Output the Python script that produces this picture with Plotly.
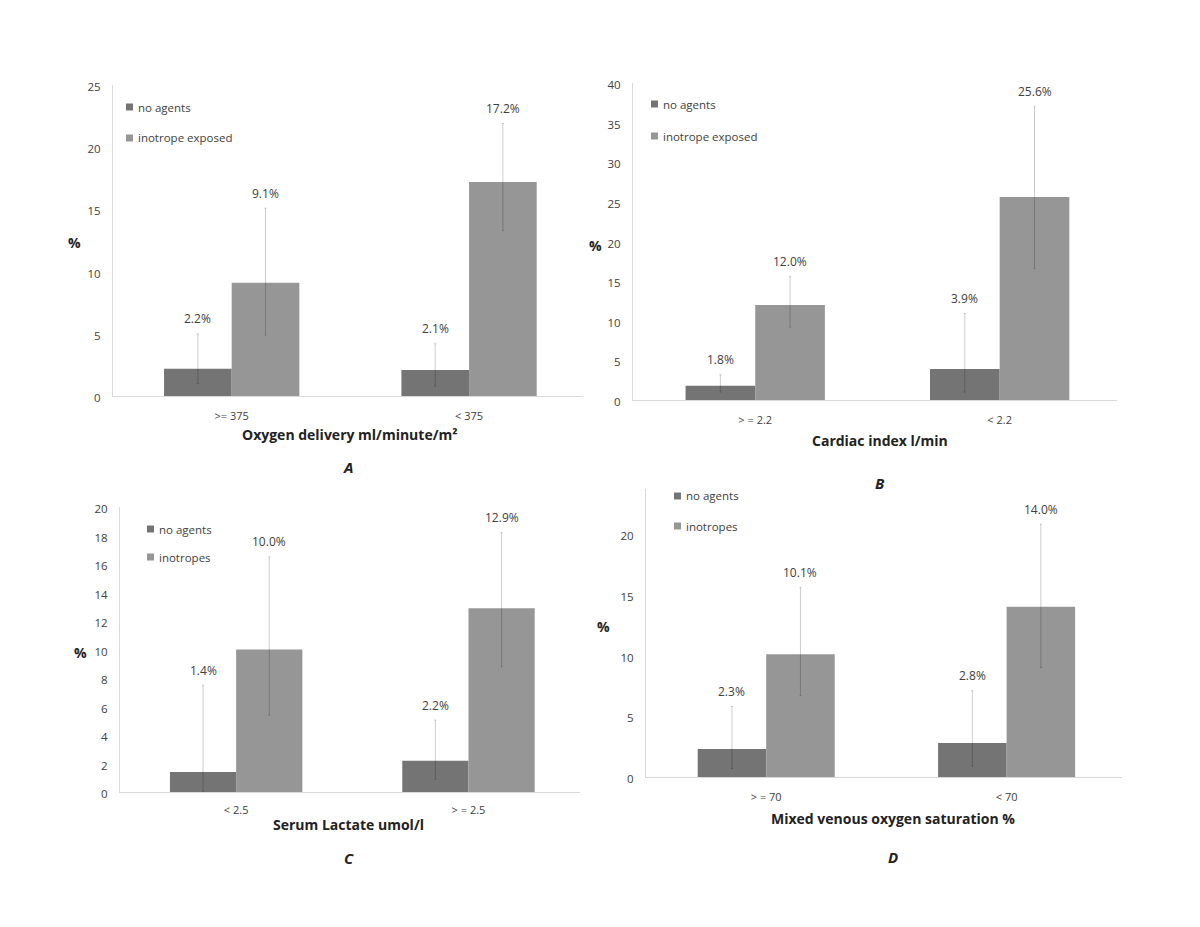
import plotly.graph_objects as go

# page is 1200x927; the browser body keeps its default 8px margin,
# so the figure itself is 1184x911 placed at (8, 8)
PAGE_M = 8
W, H = 1200 - 2 * PAGE_M, 927 - 2 * PAGE_M

# ---------------- data ----------------
cats_a = [">= 375", "< 375"]
no_a = [2.2, 2.1]
ino_a = [9.1, 17.2]
no_a_hi = [5.0, 4.2]
no_a_lo = [1.0, 0.8]
ino_a_hi = [15.1, 21.9]
ino_a_lo = [4.9, 13.3]

cats_b = ["> = 2.2", "< 2.2"]
no_b = [1.8, 3.9]
ino_b = [12.0, 25.6]
no_b_hi = [3.2, 10.9]
no_b_lo = [1.0, 1.0]
ino_b_hi = [15.6, 37.0]
ino_b_lo = [9.2, 16.6]

cats_c = ["< 2.5", "> = 2.5"]
no_c = [1.4, 2.2]
ino_c = [10.0, 12.9]
no_c_hi = [7.5, 5.05]
no_c_lo = [0.0, 0.9]
ino_c_hi = [16.5, 18.2]
ino_c_lo = [5.4, 8.8]

cats_d = ["> = 70", "< 70"]
no_d = [2.3, 2.8]
ino_d = [10.1, 14.0]
no_d_hi = [5.8, 7.1]
no_d_lo = [0.7, 0.9]
ino_d_hi = [15.6, 20.8]
ino_d_lo = [6.7, 9.0]

titles = ["Oxygen delivery ml/minute/m\u00b2", "Cardiac index l/min",
          "Serum Lactate umol/l", "Mixed venous oxygen saturation %"]
letters = ["A", "B", "C", "D"]
legend_a = ["no agents", "inotrope exposed"]
legend_c = ["no agents", "inotropes"]

# ---------------- layout geometry (screen pixels) ----------------
panels = [
    dict(cats=cats_a, no=no_a, ino=ino_a, nh=no_a_hi, nl=no_a_lo, ih=ino_a_hi, il=ino_a_lo,
         x0=113, x1=583, ytop=85, ybot=396, ymax=25, dtick=5, leg=legend_a,
         legx=126, legy=107, legdy=31, pct=(74, 243), title_xy=(350, 434), letter_xy=(348, 467),
         tick_stand=10),
    dict(cats=cats_b, no=no_b, ino=ino_b, nh=no_b_hi, nl=no_b_lo, ih=ino_b_hi, il=ino_b_lo,
         x0=633, x1=1117, ytop=83, ybot=400, ymax=40, dtick=5, leg=legend_a,
         legx=651, legy=104, legdy=32, pct=(595, 245), title_xy=(880, 441), letter_xy=(880, 483),
         tick_stand=10),
    dict(cats=cats_c, no=no_c, ino=ino_c, nh=no_c_hi, nl=no_c_lo, ih=ino_c_hi, il=ino_c_lo,
         x0=120, x1=580, ytop=507, ybot=792, ymax=20, dtick=2, leg=legend_c,
         legx=147, legy=529, legdy=28, pct=(80, 652), title_xy=(348, 824), letter_xy=(349, 858),
         tick_stand=8),
    dict(cats=cats_d, no=no_d, ino=ino_d, nh=no_d_hi, nl=no_d_lo, ih=ino_d_hi, il=ino_d_lo,
         x0=646, x1=1122, ytop=489, ybot=777, ymax=23.7, dtick=5, leg=legend_c,
         legx=674, legy=496, legdy=30, pct=(603, 626), title_xy=(893, 818), letter_xy=(893, 857),
         tick_stand=10),
]

DARK = "#747474"
LIGHT = "#969696"
ERR = "rgba(0,0,0,0.2)"
AXLINE = "#d9d9d9"
TXT = "#404040"
FONT = "Open Sans"
BW = 0.285

fig = go.Figure()
annotations = []
shapes = []

def px_x(x):
    return (x - PAGE_M) / W

def px_y(y):
    return 1 - (y - PAGE_M) / H

for i, p in enumerate(panels):
    n = "" if i == 0 else str(i + 1)
    xa, ya = "x" + n, "y" + n
    idx = list(range(len(p["cats"])))
    for vals, hi, lo, col, off in [(p["no"], p["nh"], p["nl"], DARK, -BW),
                                    (p["ino"], p["ih"], p["il"], LIGHT, 0.0)]:
        fig.add_trace(go.Bar(
            x=idx, y=vals, width=BW, offset=off, marker=dict(color=col, line=dict(width=0)),
            error_y=dict(type="data", symmetric=False,
                         array=[h - v for h, v in zip(hi, vals)],
                         arrayminus=[v - l for l, v in zip(lo, vals)],
                         color=ERR, thickness=1, width=1),
            xaxis=xa, yaxis=ya, showlegend=False, hoverinfo="skip"))
        for k, (v, h) in enumerate(zip(vals, hi)):
            annotations.append(dict(
                x=k + off + BW / 2, y=h, xref=xa, yref=ya, text=f"{v:.1f}%",
                showarrow=False, yshift=15, yanchor="middle",
                font=dict(family=FONT, size=12, color=TXT)))
    fig.layout["xaxis" + n] = dict(
        domain=[px_x(p["x0"]), px_x(p["x1"])], range=[-0.5, 1.48], anchor=ya,
        tickvals=idx, ticktext=p["cats"], showline=True, linecolor=AXLINE, linewidth=1,
        showgrid=False, zeroline=False, ticks="", ticklabelstandoff=p["tick_stand"],
        tickfont=dict(family=FONT, size=11, color=TXT), fixedrange=True, automargin=False)
    fig.layout["yaxis" + n] = dict(
        domain=[px_y(p["ybot"]), px_y(p["ytop"])], range=[0, p["ymax"]], anchor=xa,
        dtick=p["dtick"], tick0=0, showline=True, linecolor=AXLINE, linewidth=1,
        showgrid=False, zeroline=False, ticks="", ticklabelstandoff=9, ticklabelshift=2,
        tickfont=dict(family=FONT, size=11.5, color=TXT), fixedrange=True, automargin=False)
    # axis title, % label and panel letter
    annotations.append(dict(x=px_x(p["title_xy"][0]), y=px_y(p["title_xy"][1]), xref="paper", yref="paper",
                            text=f"<b>{titles[i]}</b>", showarrow=False, xanchor="center", yanchor="middle",
                            font=dict(family=FONT, size=14, color="#222222")))
    annotations.append(dict(x=px_x(p["pct"][0]), y=px_y(p["pct"][1]), xref="paper", yref="paper",
                            text="<b>%</b>", showarrow=False, xanchor="center", yanchor="middle",
                            font=dict(family=FONT, size=14, color="#222222")))
    annotations.append(dict(x=px_x(p["letter_xy"][0]), y=px_y(p["letter_xy"][1]), xref="paper", yref="paper",
                            text=f"<b><i>{letters[i]}</i></b>", showarrow=False, xanchor="center",
                            yanchor="middle", font=dict(family=FONT, size=15, color="#222222")))
    # legend (squares + text)
    for j, (lab, col) in enumerate(zip(p["leg"], [DARK, LIGHT])):
        cy = p["legy"] + j * p["legdy"]
        shapes.append(dict(type="rect", xref="paper", yref="paper",
                           x0=px_x(p["legx"]), x1=px_x(p["legx"] + 7),
                           y0=px_y(cy + 3.5), y1=px_y(cy - 3.5),
                           fillcolor=col, line=dict(width=0)))
        annotations.append(dict(x=px_x(p["legx"] + 10), y=px_y(cy), xref="paper", yref="paper",
                                text=lab, showarrow=False, xanchor="left", yanchor="middle",
                                font=dict(family=FONT, size=11.5, color=TXT)))

fig.update_layout(
    width=W, height=H, margin=dict(l=0, r=0, t=0, b=0, autoexpand=False),
    paper_bgcolor="white", plot_bgcolor="white",
    barmode="overlay", annotations=annotations, shapes=shapes,
    font=dict(family=FONT, size=11, color=TXT),
)

fig.write_html("out.html", config={"displayModeBar": False})
